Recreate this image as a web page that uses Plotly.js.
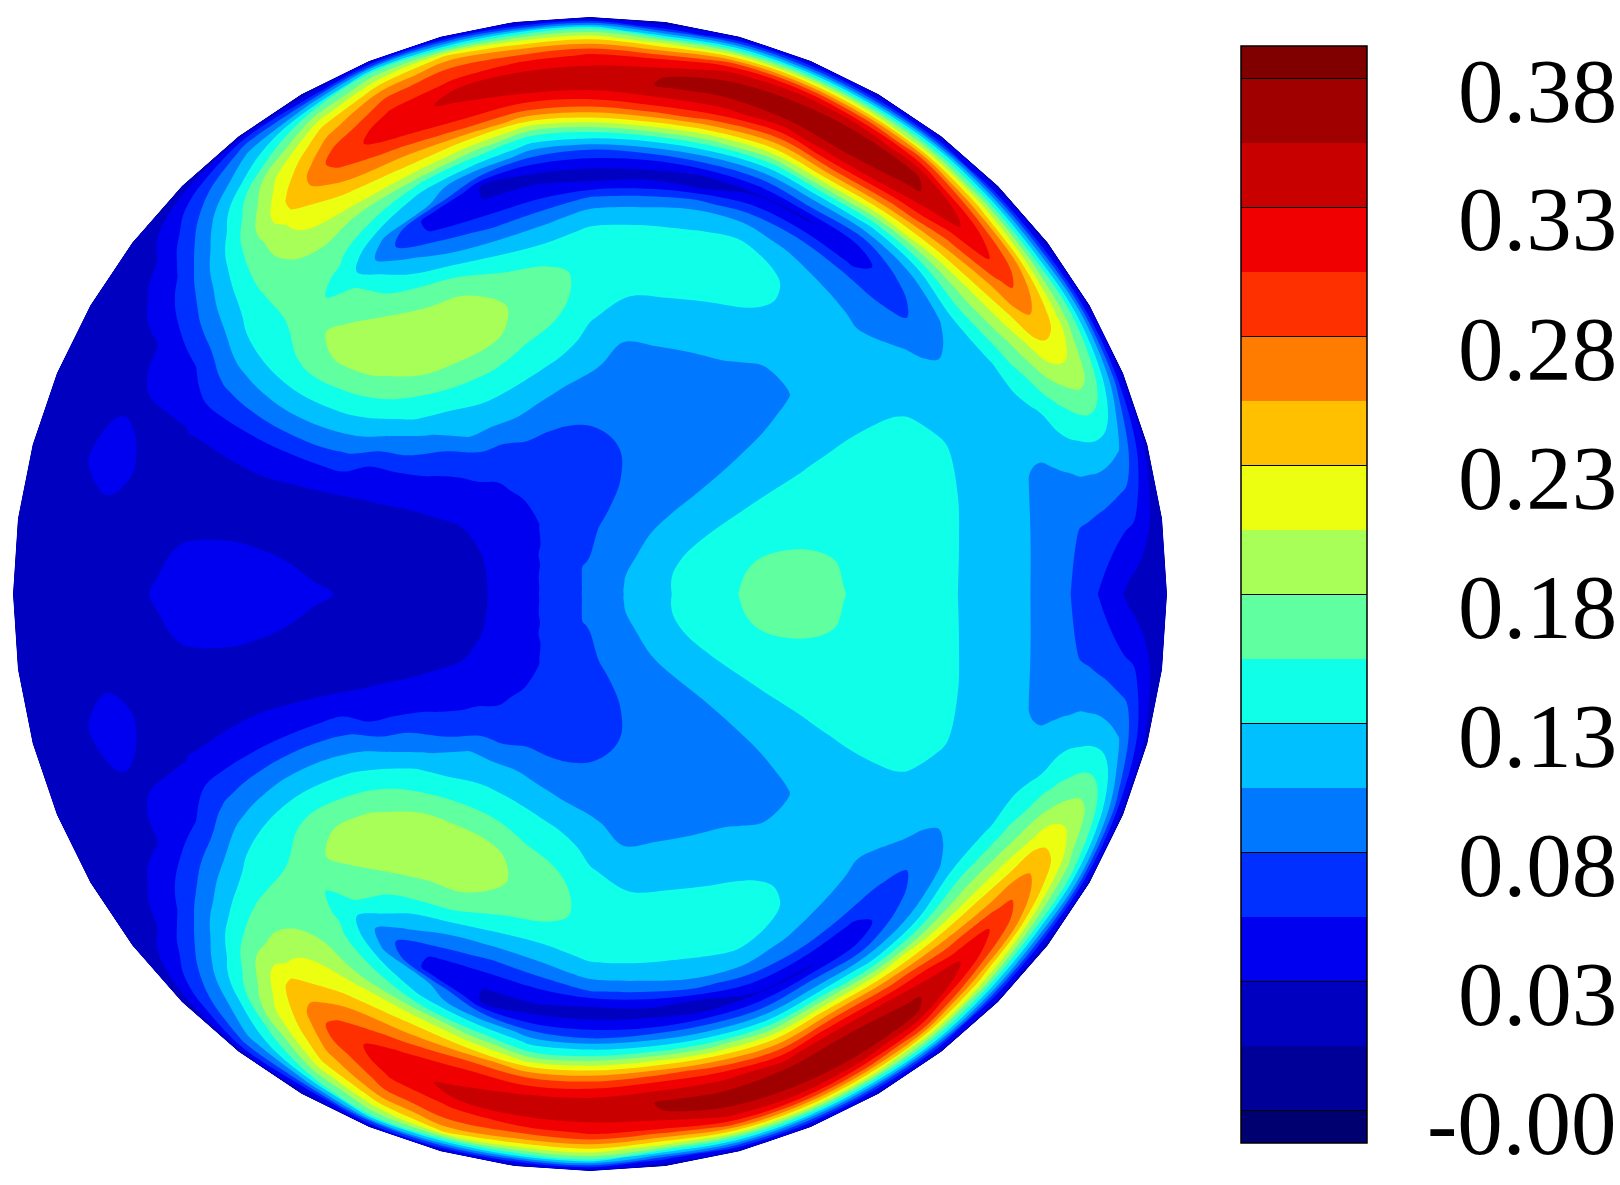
<!DOCTYPE html>
<html>
<head>
<meta charset="utf-8">
<script src="https://cdn.plot.ly/plotly-3.0.1.min.js"></script>
<style>html,body{margin:0;padding:0;background:#fff}#plot{width:1620px;height:1185px}</style>
</head>
<body>
<div id="plot"></div>
<script>
// Field on the disc on a polar grid. Values are in contour
// levels (0 = "-0.00", 16 = "0.38"); each list runs from the wall (r=1) to the centre.
const radii = [1,.99,.98,.965,.95,.935,.92,.905,.89,.875,.86,.845,.83,.815,.80,.785,.77,.75,.73,.71,.69,.66,.63,.60,.56,.52,.48,.44,.40,.35,.30,.25,.20,.15,.10,.05,0];
const t000 = [1.1,1.15,1.2,1.3,1.45,1.75,2.1,2.45,2.8,3.1,3.4,3.8,4.05,4.25,4.45,4.7,4.95,5.1,5.25,5.4,5.6,5.85,6.05,6.2,6.4,6.6,6.8,7.02,7.2,7.45,7.3,6.95,6.55,6.1,5.5,4.9,4.2];
const t007 = [1.2,1.55,1.95,2.5,3,3.15,3.35,3.55,3.7,3.85,3.95,4.1,4.3,4.5,4.65,4.85,5,5.15,5.3,5.5,5.65,5.9,6.1,6.3,6.45,6.6,6.75,6.95,7.15,7.25,7.2,6.85,6.45,6.1,5.5,4.9,4.2];
const t015 = [1.4,2.35,3.05,4.1,4.95,5.2,5.35,5.4,5.35,5.3,5.15,5.05,4.95,4.85,4.9,5.02,5.1,5.2,5.35,5.5,5.7,6,6.15,6.3,6.45,6.55,6.65,6.72,6.8,6.88,6.85,6.7,6.45,6,5.45,4.87,4.2];
const t022 = [1.4,2.6,4.3,5.9,7.05,7.8,7.95,7.75,7.4,7.1,6.7,6.15,5.9,5.75,5.65,5.55,5.5,5.45,5.5,5.6,5.8,6.1,6.25,6.35,6.45,6.52,6.58,6.6,6.6,6.55,6.45,6.3,6.12,5.85,5.4,4.83,4.2];
const t030 = [1.4,3,5,7,8.3,9.45,10.1,10.3,10.05,9.2,8.45,7.75,7.15,6.4,5.9,5.75,5.65,5.55,5.5,5.55,5.65,5.8,5.97,6.03,6.05,6.05,6.03,6.01,5.98,5.95,5.9,5.85,5.75,5.55,5.3,4.73,4.2];
const t037 = [1.3,2.6,4.6,7,9.1,11,12,12.45,11.85,10.85,10,9,8.15,7.35,6.55,5.8,5.05,4.75,4.55,4.75,5.05,5.25,5.4,5.5,5.6,5.65,5.65,5.65,5.65,5.65,5.6,5.55,5.45,5.25,5.02,4.62,4.2];
const t045 = [1.3,2.8,5,7.8,10.2,12.1,13.6,14.1,13.3,12.3,11.15,9.95,8.55,7.2,6,5,4.35,3.7,3.4,4.05,4.4,4.9,5.3,5.45,5.45,5.15,4.95,4.85,4.75,4.72,4.75,4.85,4.98,5,4.9,4.55,4.2];
const t052 = [1.3,3.2,5.8,8.8,11.85,13.8,15.2,15.3,14.7,13.85,12.45,11,9.35,7.5,5.85,4.65,3.35,2.45,2.9,4,4.5,5.2,5.45,5.5,5.4,5.2,4.85,4.65,4.5,4.45,4.45,4.5,4.6,4.7,4.65,4.45,4.2];
const t060 = [1.3,3.25,5.75,9.4,12.2,14.2,15.35,15.6,15.3,14.55,13.25,11.8,10.1,8.25,6.45,5,3.85,1.9,3,4.3,4.85,5.8,6.15,6.2,5.9,5.5,5.1,4.8,4.6,4.45,4.35,4.3,4.35,4.4,4.45,4.38,4.2];
const t067 = [1.3,3.5,6,9.8,12.7,14.5,15.2,15.6,14.97,13.85,12.5,11,9.45,7.6,6,4.6,3.4,1.9,3,4.3,5.3,6.2,6.4,6.45,6.15,5.7,5.3,4.85,4.6,4.4,4.3,4.2,4.2,4.2,4.3,4.3,4.2];
const t075 = [1.3,3.5,6,9.6,12.5,14.2,15.05,15.5,14.9,14.1,13.05,11.7,10,8.1,6.45,5,3.7,1.95,1.9,3.85,5,5.9,6.4,6.7,6.4,5.85,5.4,4.95,4.5,4.3,4.15,4.05,4,4.05,4.2,4.22,4.2];
const t082 = [1.25,2.6,5,8.7,11,13,14,14.95,15.05,14.3,13.5,12.3,10.6,8.8,6.9,5.4,4,2.25,1.65,2.9,4.45,5.65,6.35,6.8,6.6,6,5.5,5,4.7,4.35,4.1,3.9,3.8,3.9,4.05,4.15,4.2];
const t090 = [1.2,4,7,9.5,11.5,13.1,13.85,14.35,14.5,14.1,13.2,12,10.5,8.7,6.9,5.6,4,2.65,1.6,2.15,3.9,5.35,6.2,6.6,6.7,6.45,6.1,5.65,5.2,4.6,4.05,3.75,3.6,3.6,3.85,4.07,4.2];
const t097 = [1.2,3.5,6.5,9.3,11.3,12.6,13.75,14.25,14.4,14,13.1,12,10.5,8.6,7,5.75,4.5,2.85,1.75,2.1,3,4.4,5.5,6.35,7.3,7.5,7.05,6.55,5.75,4.8,4.05,3.65,3.45,3.45,3.7,4.03,4.2];
const t105 = [1.2,4,6.5,10.2,11.6,12.45,13.1,14,14.2,13.8,13.35,12.7,11.5,10,8.7,7.2,5.95,4.1,1.85,1.98,2.6,3.85,5.15,6.3,7.5,7.9,7.7,6.9,6.2,5.15,4.1,3.6,3.4,3.4,3.6,4,4.2];
const t112 = [1.2,4.2,7,8.9,10.5,11.75,12.45,13.1,13.65,13.5,13.1,12.3,11.35,10.5,9.6,8.5,7,5.55,5.05,2.4,2.7,4.2,5.35,6.85,8,8.55,8.4,7.45,6.35,5.5,4.15,3.6,3.4,3.3,3.5,3.93,4.2];
const t120 = [1.2,2.6,4.6,7,8.55,9.85,10.7,11.4,12.1,12.6,12.2,11.5,11,10.2,9.55,8.85,7.8,7,6,4.8,4.15,5.3,6.3,7.4,8.25,8.65,8.45,7.4,6.4,5.4,4,3.4,3.2,3.2,3.45,3.85,4.2];
const t127 = [1.2,3,4.2,5.25,6,6.85,8,8.8,9.25,9.75,10.15,10.15,9.6,9.4,9.05,8.6,8.3,7.75,7.35,6.9,6.5,7.2,7.6,8.05,8.6,8.7,8.05,7,6,5.2,3.7,3.1,2.9,2.95,3.4,3.77,4.2];
const t135 = [1.2,2,2.7,3.5,4,4.6,5.1,5.6,6,6.5,6.9,7.15,7.35,7.5,7.6,7.65,7.6,7.5,7.4,7.35,7.4,7.7,8.3,8.6,8.3,7.8,7.05,6.3,5.25,4,3.3,2.7,2.45,2.6,3.3,3.7,4.2];
const t142 = [1.2,1.35,1.5,1.7,1.9,2.25,2.55,2.9,3.3,3.7,4.05,4.35,4.7,5,5.25,5.5,5.75,6.05,6.3,6.5,6.65,6.8,6.85,6.8,6.55,6.2,5.65,4.8,4.1,3.2,2.5,2.2,2.25,2.55,3.15,3.63,4.2];
const t150 = [1.25,1.3,1.35,1.4,1.45,1.5,1.55,1.7,1.8,1.9,2.05,2.25,2.45,2.65,2.85,3.05,3.35,3.8,4.1,4.25,4.4,4.55,4.65,4.65,4.55,4.3,3.9,2.95,2.6,2.35,2.2,2.1,2.1,2.4,3,3.58,4.2];
const t157 = [1.25,1.3,1.35,1.4,1.45,1.55,1.65,1.8,1.9,1.93,1.93,1.9,1.9,1.9,1.9,1.93,1.97,2.02,2.03,2.05,2.08,2.12,2.15,2.17,2.15,2.12,2.08,2.02,1.95,1.85,1.8,1.8,2.05,2.4,2.95,3.55,4.2];
const t165 = [1.25,1.3,1.35,1.45,1.55,1.7,1.85,1.95,2.1,2.2,2.25,2.2,2.08,1.97,1.9,1.85,1.83,1.8,1.78,1.75,1.72,1.7,1.7,1.7,1.68,1.65,1.6,1.55,1.5,1.48,1.5,1.6,1.9,2.35,2.9,3.52,4.2];
const t172 = [1.25,1.28,1.3,1.35,1.4,1.45,1.5,1.55,1.6,1.65,1.7,1.72,1.75,1.8,1.82,1.85,1.88,1.9,1.95,1.99,2.01,2.03,2.04,2.03,1.99,1.9,1.72,1.6,1.52,1.45,1.42,1.5,1.8,2.3,2.85,3.51,4.2];
const t180 = [1.25,1.28,1.3,1.35,1.4,1.45,1.5,1.55,1.6,1.65,1.7,1.75,1.8,1.85,1.9,1.95,1.98,2.05,2.15,2.25,2.35,2.45,2.5,2.5,2.45,2.3,2.15,1.98,1.8,1.6,1.5,1.55,1.8,2.25,2.85,3.5,4.2];

const levelStep = 0.02375;
const bandColors = ['#000070','#000098','#0000c0','#0000f0','#0030ff','#0078ff','#00c0ff','#10ffe8','#60ffa0','#a8ff58','#ecff10','#ffc000','#ff7c00','#ff3000','#f00000','#c80000','#a00000','#800000'];
const barLevels = [16,14,12,10,8,6,4,2,0];
const barLabels = ['0.38','0.33','0.28','0.23','0.18','0.13','0.08','0.03','-0.00'];

// ---- page geometry (px) ----
const W = 1620, H = 1185;
const CX = 590, CY = 594, R = 577;
const BAR = { left: 1241, top: 46, width: 126, height: 1097 };
const LABEL_RIGHT = 1619, LABEL_TOP = 91, LABEL_GAP = 129;

// the field is mirror-symmetric about the horizontal midline
const upper = [t000,t007,t015,t022,t030,t037,t045,t052,t060,t067,t075,t082,t090,t097,t105,t112,t120,t127,t135,t142,t150,t157,t165,t172,t180];
const columns = upper.concat(upper.slice(0, -1).reverse());
const thetas = columns.map((_, i) => i * 7.5);
const rAsc = radii.slice().reverse();

const carpetX = [], carpetY = [], zGrid = [];
columns.forEach((col, j) => {
  const th = thetas[j] * Math.PI / 180;
  carpetX.push(rAsc.map((r) => r * Math.cos(th)));
  carpetY.push(rAsc.map((r) => r * Math.sin(th)));
  zGrid.push(col.slice().reverse().map((v) => v * levelStep));
});

const hiddenAxis = { showgrid: false, showticklabels: 'none', showline: false, startline: false, endline: false,
  minorgridcount: 0, ticks: '', smoothing: 0, tickmode: 'array', tickvals: [] };

const traces = [
  { type: 'carpet', carpet: 'disc', a: rAsc, b: thetas, x: carpetX, y: carpetY,
    aaxis: hiddenAxis, baxis: hiddenAxis },
  { type: 'contourcarpet', carpet: 'disc', a: rAsc, b: thetas, z: zGrid,
    autocontour: false,
    contours: { start: 0, end: 16 * levelStep, size: levelStep, coloring: 'fill', showlines: false },
    line: { width: 0 },
    colorscale: bandColors.map((c, i) => [i / (bandColors.length - 1), c]),
    colorbar: {
      lenmode: 'pixels', len: BAR.height, thicknessmode: 'pixels', thickness: BAR.width,
      x: BAR.left / W, xanchor: 'left', xpad: 0,
      y: 1 - BAR.top / H, yanchor: 'top', ypad: 0,
      outlinecolor: '#000', outlinewidth: 1.5, borderwidth: 0,
      tickmode: 'array', tickvals: barLevels.map((l) => l * levelStep),
      ticks: 'inside', ticklen: BAR.width, tickcolor: '#000', tickwidth: 1.2, showticklabels: false,
    } },
];

const layout = {
  width: W, height: H, margin: { l: 0, r: 0, t: 0, b: 0, autoexpand: false },
  paper_bgcolor: '#fff', plot_bgcolor: '#fff', showlegend: false,
  xaxis: { range: [-CX / R, (W - CX) / R], visible: false, fixedrange: true },
  yaxis: { range: [(CY - H) / R, CY / R], visible: false, fixedrange: true },
  annotations: barLabels.map((t, i) => ({
    text: t, xref: 'paper', yref: 'paper', showarrow: false,
    x: LABEL_RIGHT / W, xanchor: 'right', y: 1 - (LABEL_TOP + i * LABEL_GAP) / H, yanchor: 'middle',
    font: { family: '"Liberation Serif", serif', size: 91, color: '#000' },
  })),
};

Plotly.newPlot('plot', traces, layout, { displayModeBar: false, staticPlot: true });
</script>
</body>
</html>
